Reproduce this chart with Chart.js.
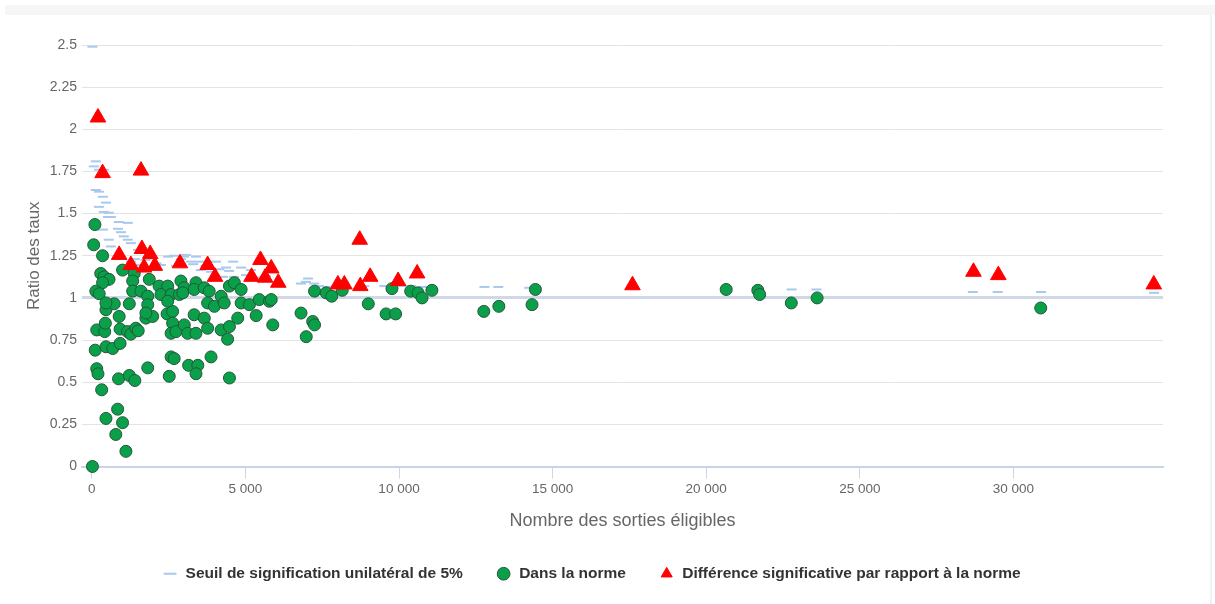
<!DOCTYPE html>
<html lang="fr">
<head>
<meta charset="utf-8">
<title>Ratio des taux</title>
<script src="https://cdn.jsdelivr.net/npm/chart.js"></script>
<style>
  html, body { margin: 0; padding: 0; background: #fff; }
  #wrap { position: relative; width: 1215px; height: 604px; }
  #band { position: absolute; left: 5px; top: 5px; width: 1210px; height: 10px; background: #f6f6f6; }
  #edge { position: absolute; left: 1210px; top: 15px; width: 2px; height: 589px; background: #f0f0f0; }
  canvas { position: absolute; left: 0; top: 0; }
</style>
</head>
<body>
<div id="wrap">
  <div id="band"></div>
  <div id="edge"></div>
  <canvas id="chart" width="1215" height="604"></canvas>
</div>
<script>
/// Seuil de signification (upper 5% threshold, one dash per observation)
const seuilX = [20, 130, 65, 230, 390, 130, 230, 360, 460, 230,
  390, 550, 520, 620, 880, 1170, 360, 850, 950, 550,
  1040, 1170, 1270, 620, 1500, 1920, 2250, 2480, 2670, 2740,
  3000, 3060, 3230, 3390, 3550, 3880, 4270, 4370, 4470, 4630,
  5020, 5350, 5670, 1270, 1600, 3550, 4040, 4600, 4860, 5180,
  6810, 6970, 7040, 7240, 7400, 7690, 8120, 8870, 9520, 10070,
  10400, 10820, 12780, 13230, 14240, 21700, 22780, 23590, 28680, 29490,
  30900, 34580, 1400, 1750, 2100, 2900, 3300, 3700, 4150, 1850];
const seuilY = [2.49, 1.81, 1.78, 1.76, 1.76, 1.64, 1.63, 1.6, 1.565, 1.54,
  1.51, 1.505, 1.48, 1.48, 1.45, 1.445, 1.405, 1.41, 1.39, 1.345,
  1.365, 1.345, 1.325, 1.305, 1.285, 1.18, 1.195, 1.245, 1.25, 1.19,
  1.245, 1.255, 1.215, 1.245, 1.165, 1.155, 1.125, 1.18, 1.16, 1.125,
  1.135, 1.12, 1.13, 1.215, 1.195, 1.215, 1.215, 1.215, 1.18, 1.165,
  1.085, 1.095, 1.115, 1.085, 1.07, 1.065, 1.065, 1.07, 1.07, 1.07,
  1.07, 1.065, 1.065, 1.065, 1.06, 1.055, 1.05, 1.05, 1.035, 1.035,
  1.035, 1.03, 1.23, 1.225, 1.205, 1.23, 1.2, 1.19, 1.17, 1.235];

/// Dans la norme (green circles)
const normeX = [20, 1110, 780, 1000, 460, 840, 320, 160, 200, 870,
  1220, 1400, 1820, 2520, 2580, 2680, 3150, 3450, 3390, 3880,
  4480, 110, 460, 680, 920, 160, 420, 440, 920, 1160,
  1270, 1430, 1510, 460, 730, 890, 1220, 1760, 1980, 2450,
  2630, 2630, 2580, 2740, 3010, 3120, 100, 60, 350, 290,
  400, 560, 350, 130, 240, 1000, 1380, 1870, 1330, 1330,
  1600, 2190, 2470, 2900, 3010, 1820, 2250, 2580, 2850, 460,
  1820, 2470, 1760, 2960, 3390, 3330, 3660, 3820, 4210, 4480,
  4640, 4860, 3770, 3990, 4310, 4860, 5130, 5450, 5780, 5840,
  5350, 4750, 3330, 3660, 3770, 4210, 4480, 4420, 5890, 3390,
  6810, 6980, 7250, 7630, 7810, 8150, 7190, 7250, 9000, 9770,
  9580, 9890, 10380, 10620, 10750, 11070, 12760, 13250, 14330, 14440,
  20650, 21680, 21740, 22770, 23610, 30890];
const normeY = [0, 0.09, 0.19, 0.26, 0.285, 0.34, 0.455, 0.58, 0.55, 0.52,
  0.54, 0.51, 0.585, 0.535, 0.65, 0.64, 0.6, 0.6, 0.55, 0.65,
  0.525, 0.69, 0.71, 0.7, 0.73, 0.81, 0.8, 0.85, 0.815, 0.8,
  0.785, 0.82, 0.805, 0.93, 0.965, 0.89, 0.965, 0.88, 0.89, 0.905,
  0.92, 0.85, 0.79, 0.8, 0.84, 0.79, 1.435, 1.315, 1.25, 1.145,
  1.125, 1.11, 1.09, 1.04, 1.025, 1.165, 1.145, 1.11, 1.1, 1.04,
  1.04, 1.07, 1.07, 1.1, 1.06, 1.01, 1.02, 1.02, 1.02, 0.97,
  0.96, 0.98, 0.91, 1.03, 1.09, 1.05, 1.06, 1.04, 1.01, 1.07,
  1.09, 1.05, 0.97, 0.95, 0.97, 0.97, 0.96, 0.99, 0.98, 0.99,
  0.895, 0.88, 0.9, 0.88, 0.82, 0.81, 0.83, 0.755, 0.84, 0.79,
  0.91, 0.77, 1.04, 1.03, 1.01, 1.045, 0.86, 0.84, 0.965, 1.055,
  0.905, 0.905, 1.04, 1.03, 1.0, 1.045, 0.92, 0.95, 0.96, 1.05,
  1.05, 1.045, 1.02, 0.97, 1.0, 0.94];

/// Différence significative (red triangles)
const diffX = [200, 350, 1600, 1630, 890, 1900, 1270, 1700, 2050, 2870,
  3770, 4010, 5200, 5490, 5640, 5840, 6070, 8010, 8220, 8720,
  8740, 9060, 9970, 10590, 17600, 28700, 29510, 34570];
const diffY = [2.07, 1.74, 1.755, 1.29, 1.255, 1.26, 1.195, 1.18, 1.19, 1.205,
  1.195, 1.125, 1.125, 1.225, 1.12, 1.175, 1.09, 1.08, 1.08, 1.345,
  1.07, 1.125, 1.1, 1.145, 1.075, 1.155, 1.135, 1.08];

/// Axis ticks
const xTickValues = [0, 5000, 10000, 15000, 20000, 25000, 30000];

const LABEL_SEUIL = "Seuil de signification unilatéral de 5%";
const LABEL_NORME = "Dans la norme";
const LABEL_DIFF = "Différence significative par rapport à la norme";

const FONT = "'Liberation Sans', Arial, sans-serif";

/// Zip two parallel arrays into {x, y} points.
function pts(xs, ys) {
  return xs.map((x, i) => ({ x, y: ys[i] }));
}

/// "10000" -> "10 000"
function fmtThousands(v) {
  return String(v).replace(/\B(?=(\d{3})+(?!\d))/g, " ");
}

// ── Chart ───────────────────────────────────────────────────────────

const ctx = document.getElementById("chart");
new Chart(ctx, {
  type: "scatter",
  data: {
    // listed in reverse so the dashes are drawn underneath; legend is reversed back
    datasets: [
      {
        label: LABEL_DIFF,
        data: pts(diffX, diffY),
        pointStyle: "triangle",
        pointRadius: 9,
        backgroundColor: "#ff0000",
        borderColor: "#ff0000",
        borderWidth: 1,
        clip: false
      },
      {
        label: LABEL_NORME,
        data: pts(normeX, normeY),
        pointStyle: "circle",
        pointRadius: 6,
        backgroundColor: "#0aa04a",
        borderColor: "#24563a",
        borderWidth: 1,
        clip: false
      },
      {
        label: LABEL_SEUIL,
        data: pts(seuilX, seuilY),
        pointStyle: "line",
        pointRadius: 5,
        backgroundColor: "#a9c8ee",
        borderColor: "#a9c8ee",
        borderWidth: 2,
        clip: false
      }
    ]
  },
  options: {
    animation: false,
    responsive: false,
    layout: { padding: { top: 45, left: 20, right: 52, bottom: 12.5 } },
    plugins: {
      tooltip: { enabled: false },
      legend: {
        position: "bottom",
        reverse: true,
        labels: {
          usePointStyle: true,
          boxHeight: 9,
          padding: 33,
          color: "#333",
          font: { family: FONT, size: 15.5, weight: "bold" }
        }
      }
    },
    scales: {
      x: {
        type: "linear",
        min: -320,
        max: 34870,
        afterFit(scale) { scale.height = 66.5; },
        afterBuildTicks(scale) { scale.ticks = xTickValues.map(v => ({ value: v })); },
        ticks: {
          padding: 3,
          color: "#666",
          font: { family: FONT, size: 13.5 },
          callback: v => fmtThousands(v)
        },
        grid: {
          drawOnChartArea: false,
          drawTicks: true,
          tickLength: 12,
          color: "#ccd6eb"
        },
        border: { color: "#c8d4ea", width: 2 },
        title: {
          display: true,
          text: "Nombre des sorties éligibles",
          color: "#666",
          font: { family: FONT, size: 18 },
          padding: { top: 4, bottom: 1 }
        }
      },
      y: {
        min: 0,
        max: 2.5,
        afterFit(scale) { scale.width = 62; },
        ticks: {
          stepSize: 0.25,
          padding: 5,
          color: "#666",
          font: { family: FONT, size: 14 },
          callback: v => String(v)
        },
        grid: {
          drawTicks: false,
          color: c => (c.tick && c.tick.value === 1 ? "#d0d8e8" : "#e3e3e3"),
          lineWidth: c => (c.tick && c.tick.value === 1 ? 3 : 1)
        },
        border: { display: false },
        title: {
          display: true,
          text: "Ratio des taux",
          color: "#666",
          font: { family: FONT, size: 17 },
          padding: { top: 4, bottom: 4 }
        }
      }
    }
  }
});
</script>
</body>
</html>
